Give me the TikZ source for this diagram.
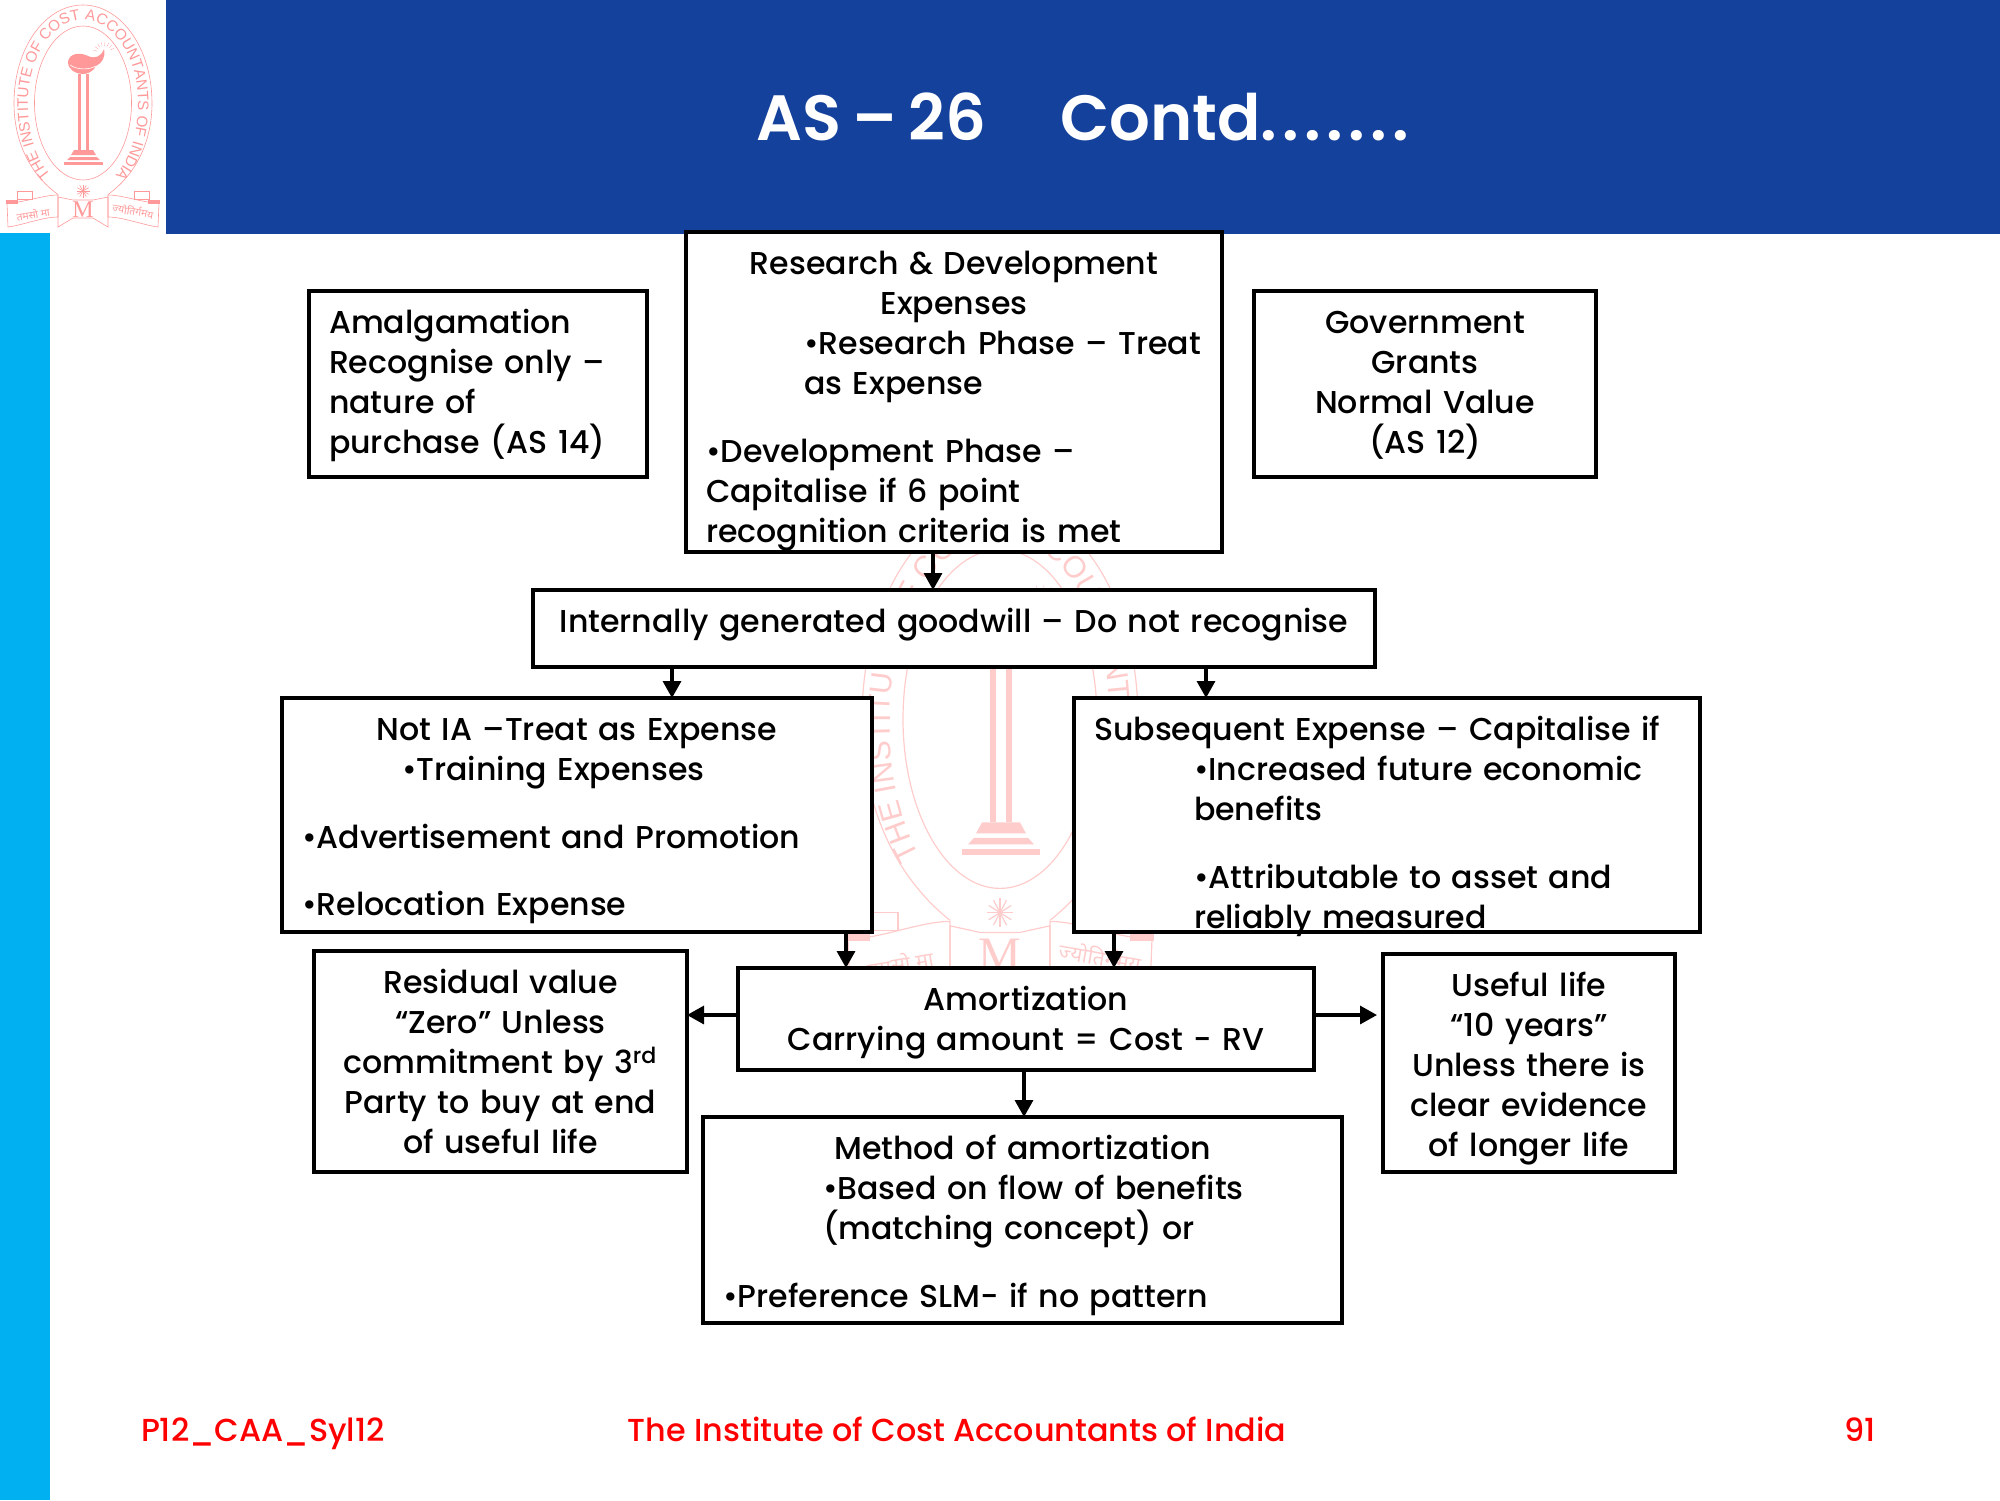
\documentclass[tikz,border=0pt]{standalone}
\usepackage{fontspec}
\setmainfont{Poppins}[UprightFont=* Medium,BoldFont=* SemiBold]
\newfontfamily\ringfont{Liberation Sans}
\newfontfamily\serifmark{Liberation Serif}
\newfontfamily\hindifont[Script=Devanagari]{Noto Sans}
\usetikzlibrary{arrows.meta,decorations.text}

\definecolor{bandblue}{HTML}{14419B}
\definecolor{sidecyan}{HTML}{00B0F0}
\definecolor{logopink}{HTML}{FF9999}
\definecolor{markpink}{HTML}{FFCCCC}

\tikzset{
    infobox/.style={draw=black,fill=white,line width=1.65pt,inner xsep=10pt,inner ysep=0pt,outer sep=0pt,
        text height=21.25pt,text depth=#1,font=\fontsize{15.8}{20}\selectfont},
    link/.style={line width=1.65pt,-{Triangle[length=8.5pt,width=9pt]}},
    footer/.style={red,text height=12pt,text depth=4pt,font=\fontsize{15.9}{18}\selectfont}
}

% institute crest: x, y of the centre, width size, height size, colour
\newcommand{\instcrest}[5]{
    \begin{scope}[shift={(#1,#2)},x=#3*0.5pt,y=-#4*0.5pt,draw=#5,line width=#3*0.3pt]
        \pgfmathsetmacro{\ringsize}{7.6*#3}
        \pgfmathsetmacro{\hindisize}{5.2*#3}
        \pgfmathsetmacro{\marksize}{12*#3}
        % rings
        \draw (-25,91.5) .. controls (-52,72) and (-69,40) .. (-69,0) .. controls (-69,-55) and (-38,-98) .. (0,-98)
            .. controls (38,-98) and (69,-55) .. (69,0) .. controls (69,40) and (52,72) .. (25,91.5);
        \draw (0,0) ellipse [x radius=48.5*#3*0.5pt,y radius=77*#4*0.5pt];
        \path[decorate,decoration={text along path,text align={center},text color=#5,
            text={|\ringfont\fontsize{\ringsize}{\ringsize}\selectfont|THE INSTITUTE OF COST ACCOUNTANTS OF INDIA}}]
            (-33,72) .. controls (-50,52) and (-55,25) .. (-55,0) .. controls (-55,-46) and (-30,-83) .. (0,-83)
            .. controls (30,-83) and (55,-46) .. (55,0) .. controls (55,25) and (50,52) .. (33,72);
        % lamp
        \fill[#5] (-15,-41) .. controls (-14,-50) and (-3,-51) .. (5,-47) .. controls (12,-44) and (18,-46) .. (21,-54)
            .. controls (23,-46) and (19,-40) .. (13,-37) .. controls (10,-31) and (4,-29) .. (0,-29)
            .. controls (-7,-29) and (-15,-33) .. (-15,-41) -- cycle;
        \draw[white] (-13,-38) .. controls (-6,-33) and (6,-33) .. (13,-37);
        \foreach \a in {-165,-145,...,-15}
            \draw[line width=#3*0.15pt] ({21+7*cos(\a)},{-50+7*sin(\a)}) -- ({21+11*cos(\a)},{-50+11*sin(\a)});
        % pillar
        \fill[#5] (-5,-29) rectangle (-2,47);
        \fill[#5] (3,-29) rectangle (6,47);
        \fill[#5] (-9,47) -- (10,47) -- (13,52) -- (-12,52) -- cycle;
        \fill[#5] (-13,54) -- (14,54) -- (17,57) -- (-16,57) -- cycle;
        \fill[#5] (-19,59) -- (20,59) -- (20,62) -- (-19,62) -- cycle;
        % star
        \foreach \a in {0,30,...,330}
            \draw ({6.5*cos(\a)},{88+6.5*sin(\a)}) -- (0,88);
        % ribbon
        \draw (-76,100) .. controls (-60,100) and (-40,92) .. (-25,92) -- (-25,114) .. controls (-40,114) and (-60,122) .. (-75,124) -- cycle;
        \draw (76,100) .. controls (60,100) and (40,92) .. (25,92) -- (25,114) .. controls (40,114) and (60,122) .. (75,124) -- cycle;
        \draw (-25,94) -- (-10,97) -- (10,97) -- (25,94) -- (25,124) -- (10,115) -- (-10,115) -- (-25,124) -- cycle;
        \fill[#5] (-77,97) rectangle (-65,101);
        \fill[#5] (65,97) rectangle (77,101);
        \draw (-66,96) rectangle (-51,88);
        \draw (66,96) rectangle (51,88);
        \node[#5,inner sep=0pt,font=\serifmark\fontsize{\marksize}{\marksize}\selectfont] (crestM#1) at (0,107) {M};
        \node[#5,inner sep=0pt,rotate=10,font=\hindifont\fontsize{\hindisize}{\hindisize}\selectfont] (crestL#1) at (-50,111) {तमसो  मा};
        \node[#5,inner sep=0pt,rotate=-10,font=\hindifont\fontsize{\hindisize}{\hindisize}\selectfont] (crestR#1) at (50,108) {ज्योतिर्गमय};
    \end{scope}
}

\begin{document}
\begin{tikzpicture}[x=0.5pt,y=-0.5pt]
    \useasboundingbox (0,0) rectangle (2000,1500);

    % watermark behind the boxes
    \instcrest{1000}{719}{2}{2.2}{markpink}

    % top band, side bar, small crest
    \fill[bandblue] (166,0) rectangle (2000,234);
    \fill[sidecyan] (0,233) rectangle (50,1500);
    \instcrest{83}{103}{1}{1}{logopink}

    % title
    \node[white,font=\bfseries\fontsize{32}{40}\selectfont] (title) at (1083,117) {AS\kern5.5pt--\kern5.5pt26\hspace{37pt}Contd.\kern2.7pt.\kern2.7pt.\kern2.7pt.\kern2.7pt.\kern2.7pt.\kern2.7pt.};

    % first row
    \node[infobox=71.75pt,align=left,text width=149pt] (amalgam) at (478,384) {Amalgamation\\Recognise only --\\nature of\\purchase (AS 14)};
    \node[infobox=138.75pt,text width=248pt] (research) at (954,392) {%
        {\centering Research \& Development\\Expenses\par}
        {\leftskip=49pt \rightskip=-10pt \textbullet Research Phase -- Treat\\as Expense\par}
        \vspace{13.8pt}
        \textbullet Development Phase --\\Capitalise if 6 point\\recognition criteria is met};
    \node[infobox=71.75pt,text width=151pt] (grants) at (1425,384) {%
        {\centering Government\\Grants\\Normal Value\\(AS 12)\par}};

    % goodwill
    \node[infobox=17.25pt,text width=401pt] (goodwill) at (954,628.5) {%
        {\centering Internally generated goodwill -- Do not recognise\par}};

    % second row
    \node[infobox=95.75pt,text width=275pt] (expense) at (577,815) {%
        {\centering Not IA --Treat as Expense\par}
        {\leftskip=50pt \textbullet Training Expenses\par}
        \vspace{13.8pt}
        \textbullet Advertisement and Promotion\par
        \vspace{13.8pt}
        \textbullet Relocation Expense};
    \node[infobox=95.75pt,text width=293pt] (subsequent) at (1387,815) {%
        Subsequent Expense -- Capitalise if\par
        {\leftskip=50pt \textbullet Increased future economic\\benefits\par
        \vspace{13.8pt}
        \textbullet Attributable to asset and\\reliably measured\par}};

    % third row
    \node[infobox=89.25pt,text width=166.5pt] (residual) at (500.5,1061.5) {%
        {\centering Residual value\\“Zero” Unless\\commitment by 3\textsuperscript{rd}\\Party to buy at end\\of useful life\par}};
    \node[infobox=29.75pt,text width=268pt] (amort) at (1026,1019) {%
        {\centering Amortization\\Carrying amount = Cost - RV\par}};
    \node[infobox=87.75pt,text width=126pt] (useful) at (1529,1063) {%
        {\centering Useful life\\“10 years”\\Unless there is\\clear evidence\\of longer life\par}};

    % method
    \node[infobox=81.75pt,text width=299.5pt] (method) at (1022.5,1220) {%
        {\centering Method of amortization\par}
        {\leftskip=50pt \textbullet Based on flow of benefits\\(matching concept) or\par}
        \vspace{13.8pt}
        \textbullet Preference SLM- if no pattern};

    % footer
    \node[footer,anchor=west] (paper) at (134,1433.5) {P12\_CAA\_Syl12};
    \node[footer] (institute) at (957,1433.5) {The Institute of Cost Accountants of India};
    \node[footer,anchor=east] (pageno) at (1883,1433.5) {91};

    % downward connectors
    \foreach \from/\to/\cx in {research/goodwill/933,goodwill/expense/672,goodwill/subsequent/1206,
        expense/amort/846,subsequent/amort/1114,amort/method/1024}{
        \coordinate (linkx) at (\cx,0);
        \draw[link] (\from.south -| linkx) -- (\to.north -| linkx);
    }

    % sideways connectors
    \coordinate (linky) at (0,1015);
    \draw[link] (amort.west |- linky) -- (residual.east |- linky);
    \draw[link,shorten >=3pt] (amort.east |- linky) -- (useful.west |- linky);
\end{tikzpicture}
\end{document}
